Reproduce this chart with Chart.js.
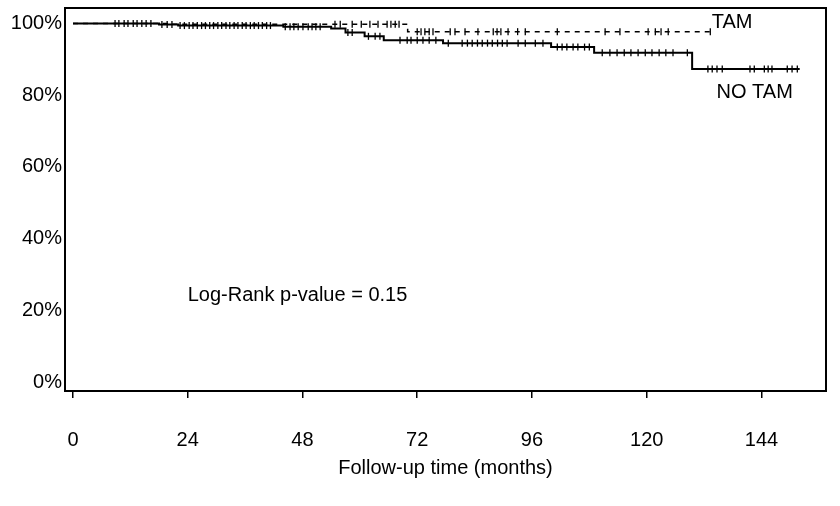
<!DOCTYPE html>
<html>
<head>
<meta charset="utf-8">
<script src="https://cdn.jsdelivr.net/npm/chart.js@4/dist/chart.umd.min.js"></script>
<style>
  html, body { margin:0; padding:0; background:#fff; }
  #wrap { width:840px; height:506px; }
</style>
</head>
<body>
<div id="wrap"><canvas id="km" width="840" height="506"></canvas></div>
<script>
// Kaplan-Meier steps (months, % surviving after the event)
const noTamTimes = [0, 18, 22, 44, 54, 57, 61, 65, 77.4, 100, 109, 129.5, 152];
const noTamSurv  = [100, 99.7, 99.4, 99.1, 98.6, 97.5, 96.4, 95.3, 94.5, 93.4, 91.8, 87.3, 87.3];
const tamTimes   = [0, 20, 70, 133.3];
const tamSurv    = [100, 99.8, 97.7, 97.7];

// censoring marks (months)
const noTamCensor = [8.8, 9.6, 10.7, 11.5, 12.6, 13.4, 14.4, 15.3, 16.3, 18.6, 19.7, 20.7,
  22.4, 23.3, 24.3, 25.1, 26, 26.9, 27.7, 28.6, 29.4, 30.3, 31.1, 32, 32.8, 33.7, 34.5, 35.4,
  36.2, 37.1, 37.9, 38.8, 39.6, 40.5, 41.3, 44.4, 45.4, 46.2, 47.1, 48.1, 49.2, 50, 50.8, 51.7,
  57.5, 58.4, 61.8, 63.2, 64.2, 68.4, 69.9, 70.7, 72, 73.2, 74.5, 75.9, 78.5, 81.4, 82.5, 83.5,
  84.6, 85.6, 86.7, 87.7, 88.8, 89.8, 90.8, 93.1, 94.6, 96.7, 98.3, 101.3, 102.3, 103.3, 104.6,
  105.6, 107, 108, 110.7, 112.3, 113.8, 115.3, 116.7, 118.2, 119.7, 121.1, 122.6, 124, 125.5,
  128.5, 132.8, 133.7, 134.7, 135.8, 141.6, 142.5, 144.6, 145.4, 146.2, 149.4, 150.4, 151.5];
const tamCensor = [54.8, 55.9, 58.4, 60.3, 62.1, 63.8, 65.7, 66.5, 67.4, 68.2, 72, 72.8, 73.6,
  74.5, 75.3, 78.9, 79.9, 82, 84.7, 87.9, 88.7, 89.5, 91, 93, 94.6, 101.3, 111.3, 114.4, 120.3,
  121.8, 123, 124.5, 133.3];

const xTicks = [0, 24, 48, 72, 96, 120, 144];
const yTicks = [0, 20, 40, 60, 80, 100];

const survAt = (times, surv, t) => {
  let v = surv[0];
  for (let i = 0; i < times.length; i++) if (times[i] <= t) v = surv[i];
  return v;
};
const steps = (times, surv) => times.map((t, i) => ({ x: t, y: surv[i] }));
const marks = (cens, times, surv) => cens.map(t => ({ x: t, y: survAt(times, surv, t) }));

const FONT = "'Liberation Sans', Arial, sans-serif";

const frame = {
  id: 'frame',
  afterDraw(chart) {
    const { ctx, chartArea: a, scales: { x, y } } = chart;
    ctx.save();
    ctx.strokeStyle = '#000';
    ctx.lineWidth = 2;
    ctx.strokeRect(a.left, a.top, a.right - a.left, a.bottom - a.top);
    ctx.fillStyle = '#000';
    ctx.font = '20px ' + FONT;
    ctx.textBaseline = 'middle';
    ctx.textAlign = 'left';
    ctx.fillText('TAM', x.getPixelForValue(133.6), y.getPixelForValue(100.2));
    ctx.fillText('NO TAM', x.getPixelForValue(134.6), y.getPixelForValue(80.8));
    ctx.fillText('Log-Rank p-value = 0.15', x.getPixelForValue(24.0), y.getPixelForValue(24.0));
    ctx.restore();
  }
};

new Chart(document.getElementById('km'), {
  type: 'line',
  data: { datasets: [
    { label: 'NO TAM', data: steps(noTamTimes, noTamSurv), stepped: true,
      borderColor: '#000', borderWidth: 2, pointRadius: 0, fill: false },
    { label: 'TAM', data: steps(tamTimes, tamSurv), stepped: true,
      borderColor: '#000', borderWidth: 1.5, borderDash: [5, 5], pointRadius: 0, fill: false },
    { label: 'NO TAM censored', data: marks(noTamCensor, noTamTimes, noTamSurv), showLine: false,
      pointStyle: 'line', rotation: 90, pointRadius: 3.5, pointBorderWidth: 1.3, borderColor: '#000' },
    { label: 'TAM censored', data: marks(tamCensor, tamTimes, tamSurv), showLine: false,
      pointStyle: 'line', rotation: 90, pointRadius: 3.5, pointBorderWidth: 1.3, borderColor: '#000' }
  ]},
  options: {
    responsive: false, animation: false,
    layout: { padding: { top: 8, right: 14, left: 0, bottom: 0 } },
    plugins: { legend: { display: false }, tooltip: { enabled: false } },
    scales: {
      x: { type: 'linear', min: -1.67, max: 157.5,
        afterBuildTicks: s => { s.ticks = xTicks.map(v => ({ value: v })); },
        afterFit: s => { s.height = 115; s.paddingLeft = 0; s.paddingRight = 0; },
        grid: { display: true, drawOnChartArea: false, drawTicks: true, tickLength: 7, color: '#000', lineWidth: 1.5 },
        border: { display: false },
        ticks: { color: '#000', padding: 30, font: { family: FONT, size: 20 } },
        title: { display: true, text: 'Follow-up time (months)', color: '#000',
          font: { family: FONT, size: 20 }, padding: { top: 0, bottom: 26 } } },
      y: { type: 'linear', min: -2.5, max: 104.3,
        afterBuildTicks: s => { s.ticks = yTicks.map(v => ({ value: v })); },
        afterFit: s => { s.width = 65; s.paddingTop = 0; s.paddingBottom = 0; },
        grid: { display: false, tickLength: 0 }, border: { display: false },
        ticks: { color: '#000', padding: 3, font: { family: FONT, size: 20 }, callback: v => v + '%' } }
    }
  },
  plugins: [frame]
});
</script>
</body>
</html>
